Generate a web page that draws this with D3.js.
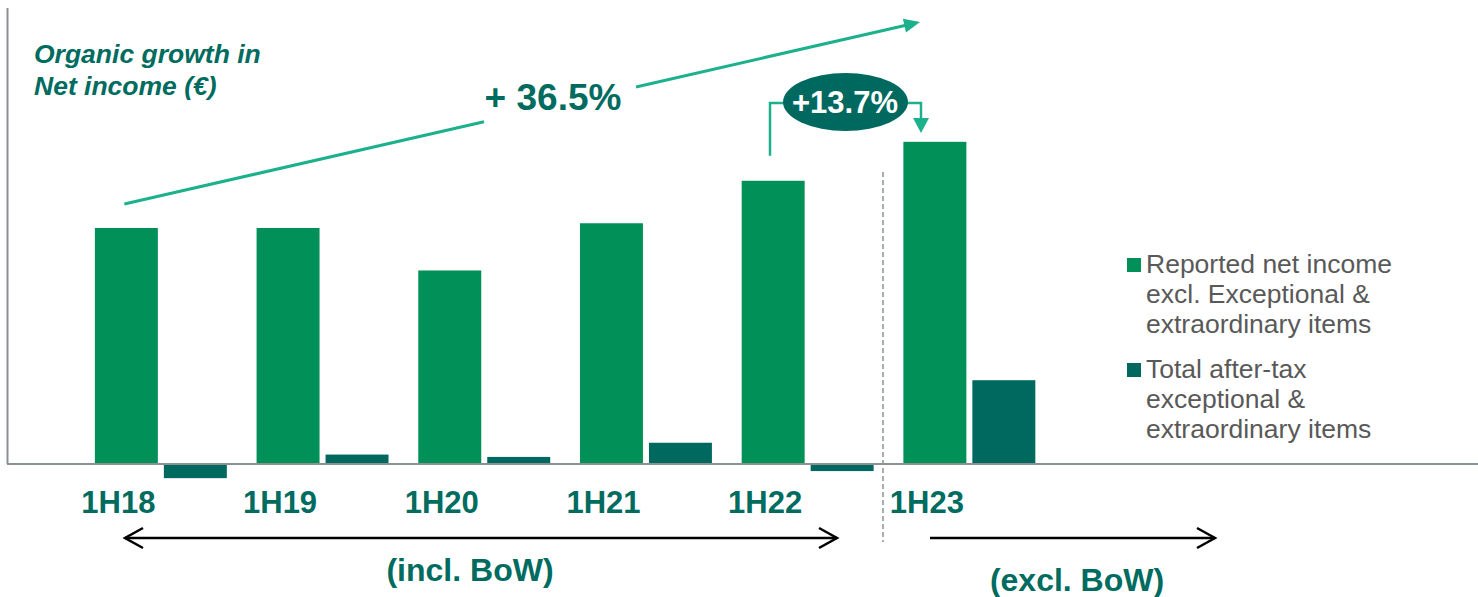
<!DOCTYPE html>
<html><head><meta charset="utf-8">
<script src="https://cdn.jsdelivr.net/npm/d3@7"></script>
<style>
html,body{margin:0;padding:0;background:#fff;}
svg{display:block;font-family:"Liberation Sans",Arial,sans-serif;}
</style></head>
<body>
<svg id="chart" width="1478" height="597"></svg>
<script>
// Data (relative units; 1H18 reported = 100)
const categories = ["1H18","1H19","1H20","1H21","1H22","1H23"];
const seriesNames = ["Reported net income excl. Exceptional & extraordinary items","Total after-tax exceptional & extraordinary items"];
const reported = [100, 100, 82, 102, 120, 136.5];
const exceptional = [-6, 4, 3, 9, -3, 35.5];
const legendLines = [["Reported net income","excl. Exceptional &","extraordinary items"],["Total after-tax","exceptional &","extraordinary items"]];
const growthTotal = "+ 36.5%";
const growthYoY = "+13.7%";

const GREEN = "#009058", DARK = "#00695f", TEXT = "#006b5f", ARROW = "#1cb08c", GRAY = "#8a9195";

const svg = d3.select("#chart");
const x = d3.scaleBand().domain(categories).range([80, 80 + 6*161.7]).paddingInner(0.184).paddingOuter(0.092);
const xs = d3.scaleBand().domain([0,1]).range([0, x.bandwidth()]).paddingInner(0.087);
const y = d3.scaleLinear().domain([0, 193.2]).range([464, 8]);

// axis lines
svg.append("line").attr("x1",7.5).attr("x2",7.5).attr("y1",y(193.2)).attr("y2",y(0)).attr("stroke",GRAY).attr("stroke-width",2);

// bars
const data = categories.map((c,i)=>({c, vals:[reported[i], exceptional[i]]}));
const g = svg.append("g").selectAll("g").data(data).join("g").attr("transform",d=>`translate(${x(d.c)},0)`);
g.selectAll("rect").data(d=>d.vals.map((v,j)=>({v,j}))).join("rect")
  .attr("x",d=>xs(d.j)).attr("width",xs.bandwidth())
  .attr("y",d=>y(Math.max(0,d.v))).attr("height",d=>Math.abs(y(d.v)-y(0)))
  .attr("fill",d=>d.j===0?GREEN:DARK);

svg.append("line").attr("x1",7).attr("x2",1478).attr("y1",y(0)).attr("y2",y(0)).attr("stroke",GRAY).attr("stroke-width",2);

// category labels
svg.append("g").selectAll("text").data(categories).join("text")
  .attr("x",c=>x(c)+xs(0)+xs.bandwidth()/2-8).attr("y",513)
  .attr("text-anchor","middle").attr("font-size",31).attr("font-weight","bold").attr("fill",TEXT).text(c=>c);

// dashed separator
svg.append("line").attr("x1",883).attr("x2",883).attr("y1",172).attr("y2",542)
  .attr("stroke",GRAY).attr("stroke-width",1.5).attr("stroke-dasharray","5,3");

// title
const title = svg.append("text").attr("x",34).attr("font-size",26.5).attr("font-weight","bold").attr("font-style","italic").attr("fill",TEXT);
title.append("tspan").attr("x",34).attr("y",63).text("Organic growth in");
title.append("tspan").attr("x",34).attr("y",95).text("Net income (€)");

// big growth line
const gx0 = x("1H18")+xs(0)+xs.bandwidth()/2-2, gy0 = 204;
const gx1 = 920, gy1 = 22;
const slope = (gy1-gy0)/(gx1-gx0);
const ly = xx => gy0 + slope*(xx-gx0);
svg.append("line").attr("x1",gx0).attr("y1",gy0).attr("x2",484).attr("y2",ly(484)).attr("stroke",ARROW).attr("stroke-width",3);
svg.append("line").attr("x1",636).attr("y1",ly(636)).attr("x2",906).attr("y2",ly(906)).attr("stroke",ARROW).attr("stroke-width",3);
{
  const ang = Math.atan2(gy1-gy0, gx1-gx0);
  const L=16, W=7;
  const bx = gx1 - L*Math.cos(ang), by = gy1 - L*Math.sin(ang);
  const px = -Math.sin(ang)*W, py = Math.cos(ang)*W;
  svg.append("path").attr("d",`M${gx1},${gy1}L${bx+px},${by+py}L${bx-px},${by-py}Z`).attr("fill",ARROW);
}
svg.append("text").attr("x",553).attr("y",110).attr("text-anchor","middle").attr("font-size",37).attr("font-weight","bold").attr("fill",TEXT).text(growthTotal);

// +13.7% connector
const cx22 = 770, cx23 = 921;
svg.append("path").attr("d",`M${cx22},${y(reported[4])-25}V103H790`).attr("fill","none").attr("stroke",ARROW).attr("stroke-width",2.5);
svg.append("path").attr("d",`M900,103H${cx23}V120`).attr("fill","none").attr("stroke",ARROW).attr("stroke-width",2.5);
svg.append("path").attr("d",`M${cx23-8},118L${cx23+8},118L${cx23},133Z`).attr("fill",ARROW);
svg.append("ellipse").attr("cx",845.5).attr("cy",102).attr("rx",62.5).attr("ry",29).attr("fill",DARK);
svg.append("text").attr("x",845).attr("y",113).attr("text-anchor","middle").attr("font-size",31).attr("font-weight","bold").attr("fill","#fff").text(growthYoY);

// legend
const lg = svg.append("g");
[[258,GREEN],[363,DARK]].forEach(([yy,col],i)=>{
  lg.append("rect").attr("x",1127).attr("y",yy).attr("width",14).attr("height",14).attr("fill",col);
  const t = lg.append("text").attr("font-size",26.5).attr("fill","#595959");
  legendLines[i].forEach((s,k)=>t.append("tspan").attr("x",1146).attr("y",yy+15+k*30).text(s));
});

// bottom arrows
const BL="#000";
svg.append("line").attr("x1",125).attr("x2",837).attr("y1",538).attr("y2",538).attr("stroke",BL).attr("stroke-width",2.5);
svg.append("path").attr("d","M143,528L125,538L143,548").attr("fill","none").attr("stroke",BL).attr("stroke-width",2.5);
svg.append("path").attr("d","M819,528L837,538L819,548").attr("fill","none").attr("stroke",BL).attr("stroke-width",2.5);
svg.append("line").attr("x1",930).attr("x2",1215).attr("y1",538).attr("y2",538).attr("stroke",BL).attr("stroke-width",2.5);
svg.append("path").attr("d","M1197,528L1215,538L1197,548").attr("fill","none").attr("stroke",BL).attr("stroke-width",2.5);

svg.append("text").attr("x",470).attr("y",581).attr("text-anchor","middle").attr("font-size",32).attr("font-weight","bold").attr("fill",TEXT).text("(incl. BoW)");
svg.append("text").attr("x",1077).attr("y",591).attr("text-anchor","middle").attr("font-size",32).attr("font-weight","bold").attr("fill",TEXT).text("(excl. BoW)");
</script>
</body></html>
